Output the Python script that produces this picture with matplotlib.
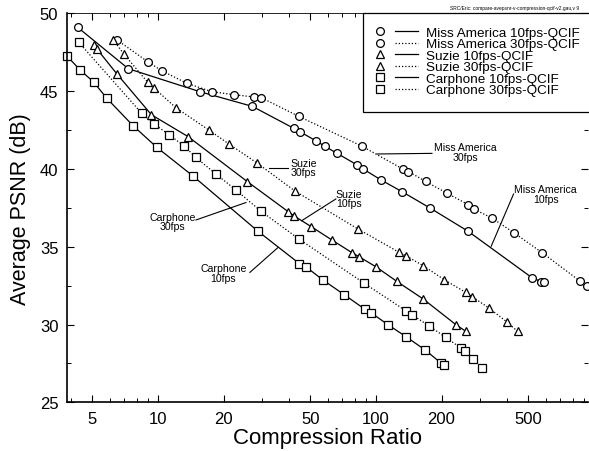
import matplotlib
matplotlib.use("Agg")
import matplotlib.pyplot as plt
from matplotlib.lines import Line2D
from matplotlib.patches import Rectangle
from matplotlib.legend_handler import HandlerBase
from matplotlib.ticker import FixedLocator, LogLocator, NullFormatter, FixedFormatter, MultipleLocator

plt.rcParams['font.family'] = ['Liberation Sans', 'DejaVu Sans']

# Miss America
ma10_x = [4.28, 7.31, 15.6, 27.1, 42.1, 44.8, 53.0, 58.4, 66.0, 82.1, 87.5, 105, 132, 177, 265, 521, 575, 592]
ma10_y = [49.1, 46.44, 44.96, 44.02, 42.6, 42.39, 41.81, 41.45, 41.02, 40.25, 39.99, 39.31, 38.53, 37.49, 35.99, 33.0, 32.75, 32.71]
ma30_x = [6.47, 8.97, 10.46, 13.59, 17.69, 22.39, 27.66, 29.78, 44.35, 86.0, 133, 141, 169, 211, 265, 281.6, 341.6, 429.5, 580, 862, 930]
ma30_y = [48.30, 46.89, 46.29, 45.5, 44.96, 44.77, 44.62, 44.58, 43.37, 41.47, 39.99, 39.83, 39.2, 38.45, 37.71, 37.42, 36.83, 35.9, 34.61, 32.80, 32.47]

# Suzie
su10_x = [5.07, 5.25, 6.50, 9.33, 13.73, 25.73, 39.6, 42.2, 50.5, 63.0, 78.0, 83.4, 100, 124.5, 164.8, 232.8, 258.7]
su10_y = [47.99, 47.7, 46.08, 43.48, 42.08, 39.18, 37.25, 36.97, 36.29, 35.42, 34.6, 34.37, 33.71, 32.78, 31.64, 29.99, 29.56]
su30_x = [6.24, 6.98, 8.97, 9.62, 12.09, 17.19, 21.17, 28.61, 42.6, 82.7, 127.9, 137.3, 164.8, 205.7, 257.9, 276.5, 329.9, 401, 446.7]
su30_y = [48.30, 47.37, 45.57, 45.18, 43.93, 42.48, 41.6, 40.36, 38.57, 36.14, 34.64, 34.42, 33.78, 32.88, 32.07, 31.79, 31.06, 30.14, 29.56]

# Carphone
cp10_x = [3.82, 4.39, 5.07, 5.82, 7.68, 9.89, 14.43, 28.67, 44.5, 47.7, 57.3, 71.5, 89.0, 95.1, 113.8, 137.7, 168.3, 198.7, 205.7]
cp10_y = [47.26, 46.36, 45.58, 44.54, 42.78, 41.38, 39.56, 36.01, 33.92, 33.71, 32.85, 31.92, 30.98, 30.75, 29.98, 29.21, 28.36, 27.53, 27.42]
cp30_x = [4.33, 8.42, 9.59, 11.23, 13.2, 14.89, 18.51, 22.72, 29.68, 44.4, 88.4, 137.7, 146.6, 175, 208.7, 245.4, 256.1, 279.5, 307.4]
cp30_y = [48.14, 43.57, 42.89, 42.2, 41.47, 40.75, 39.65, 38.66, 37.28, 35.49, 32.65, 30.87, 30.62, 29.92, 29.18, 28.49, 28.32, 27.78, 27.2]

x_ticks = [5, 10, 20, 50, 100, 200, 500]
x_ticklabels = ['5', '10', '20', '50', '100', '200', '500']

# label text, text position, leader line start/end
notes = [
    ("Miss America\n30fps", (256.8, 41.09), (101.1, 40.96), (180.7, 41.0)),
    ("Miss America\n10fps", (600.9, 38.37), (428.2, 38.39), (338.0, 35.03)),
    ("Suzie\n30fps", (46.7, 40.10), (32.4, 40.04), (39.4, 40.04)),
    ("Suzie\n10fps", (75.2, 38.10), (65.5, 38.07), (45.6, 36.67)),
    ("Carphone\n30fps", (11.65, 36.62), (14.94, 36.72), (25.33, 37.84)),
    ("Carphone\n10fps", (19.93, 33.31), (26.4, 33.35), (35.6, 34.96)),
]

dot = (0, (1, 1.6))
series = [
    (ma10_x, ma10_y, 'o', '-', 5.6, "Miss America 10fps-QCIF"),
    (ma30_x, ma30_y, 'o', dot, 5.6, "Miss America 30fps-QCIF"),
    (su10_x, su10_y, '^', '-', 5.4, "Suzie 10fps-QCIF"),
    (su30_x, su30_y, '^', dot, 5.4, "Suzie 30fps-QCIF"),
    (cp10_x, cp10_y, 's', '-', 5.6, "Carphone 10fps-QCIF"),
    (cp30_x, cp30_y, 's', dot, 5.6, "Carphone 30fps-QCIF"),
]


class MarkerThenLine(HandlerBase):
    # legend entry drawn as: marker, gap, short line
    def create_artists(self, legend, orig, xdescent, ydescent, width, height, fontsize, trans):
        y = height / 2 - ydescent
        mk = Line2D([width * 0.16 - xdescent], [y], ls='none', marker=orig.get_marker(),
                    ms=orig.get_markersize(), mfc='white', mec='black',
                    mew=orig.get_markeredgewidth(), transform=trans)
        ln = Line2D([width * 0.48 - xdescent, width - xdescent], [y, y])
        ln.update_from(orig)
        ln.set_marker('')
        ln.set_transform(trans)
        return [mk, ln]


fig = plt.figure(figsize=(5.89, 4.52), dpi=100)
ax = fig.add_axes([0.1132, 0.1077, 0.8851, 0.8606])

handles = []
for xs, ys, mk, ls, ms, lab in series:
    h, = ax.plot(xs, ys, color='black', ls=ls, lw=0.9, marker=mk, ms=ms,
                 mfc='white', mec='black', mew=0.9, label=lab, clip_on=False)
    handles.append(h)

for txt, pos, p1, p2 in notes:
    ax.text(pos[0], pos[1], txt, ha='center', va='center', fontsize=7.6, linespacing=0.95)
    ax.plot([p1[0], p2[0]], [p1[1], p2[1]], color='black', lw=0.8)

ax.set_xscale('log')
ax.set_xlim(3.81, 940)
ax.set_ylim(25, 50)
ax.xaxis.set_major_locator(FixedLocator(x_ticks))
ax.xaxis.set_major_formatter(FixedFormatter(x_ticklabels))
ax.xaxis.set_minor_locator(LogLocator(base=10, subs=range(1, 10)))
ax.xaxis.set_minor_formatter(NullFormatter())
ax.yaxis.set_major_locator(MultipleLocator(5))
ax.yaxis.set_minor_locator(MultipleLocator(2.5))

ax.tick_params(which='both', direction='in', top=True, right=True, labelsize=12, color='black')
ax.tick_params(which='major', length=5, width=0.8)
ax.tick_params(which='minor', length=3, width=0.7)
ax.tick_params(axis='x', pad=6)
ax.tick_params(axis='y', pad=6)

ax.spines['right'].set_visible(False)
ax.spines['top'].set_linewidth(0.6)
ax.spines['left'].set_linewidth(1.2)
ax.spines['bottom'].set_linewidth(1.2)

ax.set_xlabel('Compression Ratio', fontsize=16, labelpad=1)
ax.set_ylabel('Average PSNR (dB)', fontsize=15.5, labelpad=6)

# legend box (runs off the right edge like the cropped original)
ax.add_patch(Rectangle((0.568, 0.746), 0.45, 0.254, transform=ax.transAxes,
                       facecolor='white', edgecolor='black', lw=0.9, zorder=4, clip_on=False))
leg = ax.legend(handles=handles, handler_map={Line2D: MarkerThenLine()},
                loc='upper left', bbox_to_anchor=(0.5868, 0.966), borderaxespad=0,
                fontsize=9.7, handlelength=3.4, handletextpad=0.6, labelspacing=-0.07,
                borderpad=0, frameon=False)
leg.set_zorder(5)

fig.text(0.984, 0.982, "SRC/Eric: compare-avepsnr-v-compression-qcif-v2.gau,v 9",
         ha='right', va='center', fontsize=3.5)

fig.savefig('out.png', dpi=100)
